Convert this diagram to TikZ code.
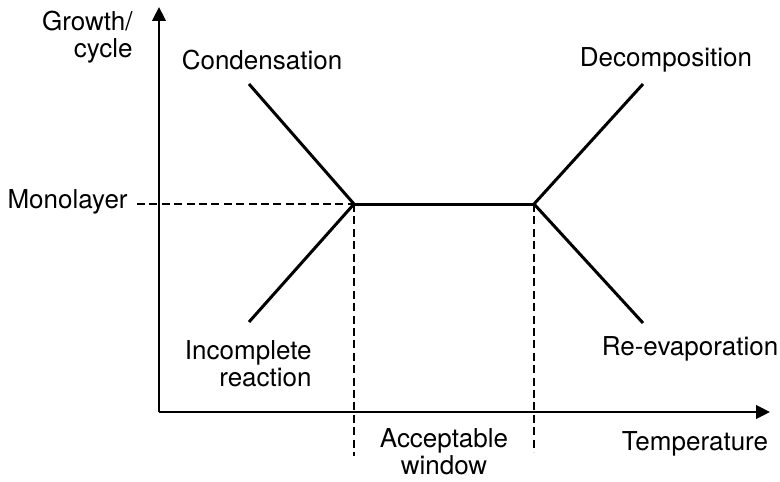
\documentclass[tikz,border=0pt]{standalone}
\usepackage{fontspec}
\setmainfont{TeX Gyre Heros}
\usetikzlibrary{arrows.meta}

\begin{document}
\begin{tikzpicture}[x=.5pt,y=.5pt,font=\fontsize{13}{13.6}\selectfont,>={Triangle[length=7pt,width=6.8pt]},
  curve/.style={line width=1.5pt},
  guide/.style={line width=.8pt,dash pattern=on 4pt off 2.2pt},
  lbl/.style={inner sep=0pt}]
\useasboundingbox (0,0) rectangle (780,-481);
% axes
\coordinate (o) at (159,-412);
\coordinate (ytip) at (159,-7);
\coordinate (xtip) at (770,-412);
\draw[line width=.9pt,->] (o)--(ytip);
\draw[line width=.9pt,->] (o)--(xtip);
% kinks of the curve
\coordinate (kl) at (354,-204);
\coordinate (kr) at (534,-204);
\coordinate (cond) at (249,-84);
\coordinate (inc) at (249,-322);
\coordinate (dec) at (643,-84);
\coordinate (reev) at (643,-323);
\coordinate (mono) at (137,-204);
\coordinate (wl) at (354,-456);
\coordinate (wr) at (534,-452);
\draw[guide] (mono)--(kl);
\draw[guide] (kl)--(wl);
\draw[guide] (kr)--(wr);
\draw[curve] (cond)--(kl)--(inc);
\draw[curve] (dec)--(kr)--(reev);
\draw[curve] (kl)--(kr);
% labels
\node[lbl,align=right,anchor=east] (ylab) at (133,-37) {Growth/\\cycle};
\node[lbl] (lcond) at (262,-60) {Condensation};
\node[lbl] (ldec) at (666,-60) {Decomposition};
\node[lbl,anchor=east] (lmono) at (128,-202) {Monolayer};
\node[lbl,align=right,anchor=east] (linc) at (312,-364) {Incomplete\\reaction};
\node[lbl] (lreev) at (690,-349) {Re-evaporation};
\node[lbl,align=center] (lwin) at (444,-452) {Acceptable\\window};
\node[lbl] (ltemp) at (695,-444) {Temperature};
\end{tikzpicture}
\end{document}
